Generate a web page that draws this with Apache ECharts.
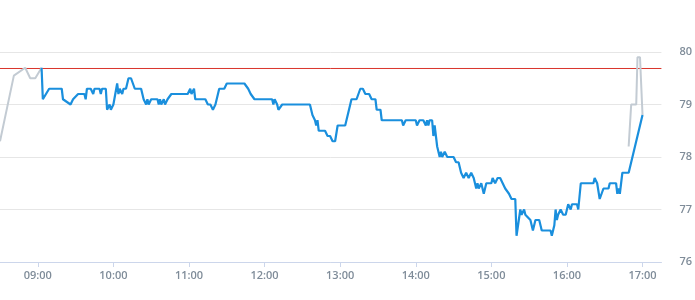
<!DOCTYPE html>
<html>
<head>
<meta charset="utf-8">
<script src="https://cdn.jsdelivr.net/npm/echarts@6/dist/echarts.min.js"></script>
<style>
html,body{margin:0;padding:0;background:#fff;}
#chart{width:695px;height:300px;}
</style>
</head>
<body>
<div id="chart"></div>
<script>
// Main session (blue)
const blueTimes = ['09:03','09:04','09:09','09:19','09:20','09:26','09:28','09:32','09:37','09:38','09:39','09:42','09:44','09:45','09:49','09:50','09:51','09:54','09:55','09:57','09:58','10:00','10:01','10:03','10:04','10:05','10:07','10:08','10:10','10:12','10:14','10:17','10:22','10:24','10:26','10:27','10:28','10:30','10:35','10:36','10:37','10:38','10:40','10:41','10:43','10:46','10:59','11:01','11:02','11:04','11:05','11:13','11:15','11:17','11:19','11:21','11:23','11:24','11:28','11:30','11:44','11:47','11:49','11:50','11:52','12:06','12:07','12:08','12:10','12:11','12:12','12:14','12:36','12:38','12:40','12:41','12:42','12:43','12:48','12:50','12:52','12:54','12:56','12:58','13:04','13:06','13:09','13:13','13:16','13:18','13:20','13:23','13:25','13:28','13:29','13:32','13:33','13:49','13:50','13:52','14:00','14:01','14:03','14:06','14:08','14:09','14:10','14:11','14:13','14:14','14:15','14:17','14:19','14:20','14:21','14:23','14:25','14:30','14:32','14:34','14:36','14:38','14:40','14:42','14:44','14:46','14:48','14:49','14:50','14:52','14:54','14:56','15:00','15:01','15:03','15:05','15:07','15:09','15:11','15:14','15:16','15:19','15:20','15:23','15:24','15:26','15:27','15:28','15:31','15:33','15:35','15:38','15:40','15:47','15:48','15:50','15:51','15:52','15:53','15:55','15:57','15:59','16:00','16:01','16:03','16:04','16:08','16:09','16:11','16:21','16:22','16:24','16:26','16:29','16:33','16:34','16:39','16:40','16:41','16:42','16:44','16:49','17:00'];
const blueValues = [79.7,79.1,79.3,79.3,79.1,79.0,79.1,79.2,79.2,79.1,79.3,79.3,79.2,79.3,79.3,79.2,79.3,79.3,78.9,79.0,78.9,79.0,79.0,79.4,79.2,79.3,79.2,79.3,79.3,79.5,79.5,79.3,79.3,79.1,79.0,79.1,79.0,79.1,79.1,79.0,79.1,79.0,79.1,79.0,79.1,79.2,79.2,79.3,79.2,79.3,79.1,79.1,79.0,79.0,78.9,79.0,79.2,79.3,79.3,79.4,79.4,79.3,79.2,79.2,79.1,79.1,79.0,79.1,79.0,78.9,78.9,79.0,79.0,78.8,78.7,78.6,78.7,78.5,78.5,78.4,78.4,78.3,78.3,78.6,78.6,78.8,79.1,79.1,79.3,79.3,79.2,79.2,79.1,79.1,78.9,78.9,78.7,78.7,78.6,78.7,78.7,78.6,78.7,78.7,78.6,78.7,78.6,78.7,78.7,78.4,78.6,78.2,78.0,78.1,78.0,78.1,78.0,78.0,77.9,77.9,77.7,77.6,77.7,77.6,77.7,77.6,77.4,77.5,77.4,77.5,77.3,77.5,77.5,77.6,77.5,77.6,77.6,77.5,77.4,77.3,77.2,77.2,76.5,77.0,76.9,77.0,76.9,76.9,76.8,76.6,76.8,76.8,76.6,76.6,76.5,76.7,77.0,76.8,76.9,77.0,76.9,76.9,77.0,77.1,77.0,77.1,77.1,77.0,77.5,77.5,77.6,77.5,77.2,77.4,77.4,77.5,77.5,77.3,77.4,77.3,77.7,77.7,78.8];

// Pre-market (grey)
const preTimes = ['08:30','08:41','08:50','08:54','08:58','09:03'];
const preValues = [78.3,79.55,79.7,79.5,79.5,79.7];

// After-hours (grey)
const postTimes = ['16:49','16:51','16:55','16:56','16:58','17:00'];
const postValues = [78.2,79.0,79.0,79.9,79.9,78.8];

const refLevel = 79.686;

const xTickLabels = ['09:00','10:00','11:00','12:00','13:00','14:00','15:00','16:00','17:00'];
const yTickLabels = ['76','77','78','79','80'];

function toMin(s){const p=s.split(':');return (+p[0])*60+(+p[1]);}
function pad(n){return (n<10?'0':'')+n;}
function fmt(m){return pad(Math.floor(m/60))+':'+pad(m%60);}
function pairs(t,v){return t.map((x,i)=>[toMin(x),v[i]]);}

const xTickVals = xTickLabels.map(toMin);
const xMin = toMin('08:30'), xMax = toMin('17:15');

const chart = echarts.init(document.getElementById('chart'), null, {renderer:'canvas'});
const labelColor = '#7f8c99';
chart.setOption({
  animation:false,
  grid:{left:0,right:30,top:52,bottom:38,containLabel:false},
  xAxis:{
    type:'value',
    min:xMin,
    max:xMax,
    splitLine:{show:false},
    axisLine:{show:true,lineStyle:{color:'#ccd6eb',width:1}},
    axisTick:{show:true,length:5,lineStyle:{color:'#ccd6eb'},customValues:xTickVals},
    axisLabel:{color:labelColor,fontSize:11,fontWeight:600,fontFamily:'Open Sans',margin:8,customValues:xTickVals,
      formatter:function(v){return fmt(Math.round(v));}}
  },
  yAxis:{
    type:'value',
    position:'right',
    min:76,max:80,interval:1,
    axisLine:{show:false},
    axisTick:{show:false},
    splitLine:{lineStyle:{color:'#e6e6e6',width:1}},
    axisLabel:{color:labelColor,fontSize:11,fontWeight:600,fontFamily:'Open Sans',margin:18,
      formatter:function(v){return yTickLabels[Math.round(v-76)];}}
  },
  series:[
    {type:'line',name:'ref',data:[[xMin,refLevel],[xMax,refLevel]],showSymbol:false,silent:true,
      lineStyle:{color:'#d9342b',width:1},itemStyle:{color:'#d9342b'},z:1},
    {type:'line',data:pairs(preTimes,preValues),showSymbol:false,
      lineStyle:{color:'#c3cbd3',width:2},z:2},
    {type:'line',data:pairs(postTimes,postValues),showSymbol:false,
      lineStyle:{color:'#c3cbd3',width:2},z:2},
    {type:'line',data:pairs(blueTimes,blueValues),showSymbol:false,
      lineStyle:{color:'#1a8fdd',width:2.2},z:3}
  ]
});
</script>
</body>
</html>
